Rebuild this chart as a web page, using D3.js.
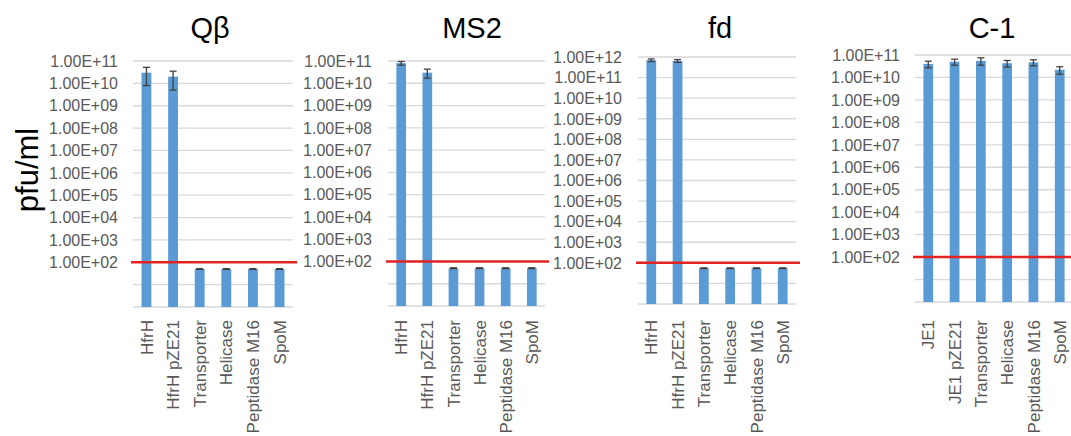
<!DOCTYPE html>
<html>
<head>
<meta charset="utf-8">
<script src="https://cdn.jsdelivr.net/npm/d3@7"></script>
<style>
  body { margin: 0; background: #fff; }
  text { font-family: "Liberation Sans", Arial, sans-serif; }
</style>
</head>
<body>
<svg id="chart" width="1071" height="436"></svg>
<script>
// data
const hfrCategories = ["HfrH", "HfrH pZE21", "Transporter", "Helicase", "Peptidase M16", "SpoM"];
const je1Categories = ["JE1", "JE1 pZE21", "Transporter", "Helicase", "Peptidase M16", "SpoM"];
const panelTitles = ["Q\u03B2", "MS2", "fd", "C-1"];

const qbValues = [3.0e10, 2.0e10, 50, 50, 50, 50];
const qbErrors = [2.2e10, 1.5e10, 2, 2, 2, 2];
const ms2Values = [8.0e10, 3.0e10, 50, 50, 50, 50];
const ms2Errors = [1.5e10, 1.3e10, 2, 2, 2, 2];
const fdValues = [7.0e11, 6.5e11, 55, 55, 55, 55];
const fdErrors = [1.0e11, 1.0e11, 2, 2, 2, 2];
const c1Values = [4.0e10, 5.0e10, 5.5e10, 4.3e10, 4.7e10, 2.2e10];
const c1Errors = [1.3e10, 1.5e10, 2.0e10, 1.4e10, 1.4e10, 0.8e10];

const detectionLimit = 1e2;
const yMaxes = [1e11, 1e11, 1e12, 1e11];

// layout
const config = {
    barColor: "#5B9BD5",
    gridColor: "#D9D9D9",
    errColor: "#404040",
    limitColor: "#E32222",
    labelColor: "#595959",
    tickFont: 16,
    xTickFont: 17,
    titleFont: 29,
    xLabelTop: 320
};

const panels = [
    {x0: 133, x1: 293, yTop: 61, yBottom: 307, labelX: 118, titleX: 210},
    {x0: 388, x1: 545, yTop: 61, yBottom: 306, labelX: 372, titleX: 472},
    {x0: 638, x1: 796, yTop: 57, yBottom: 304, labelX: 622, titleX: 720},
    {x0: 915, x1: 1073, yTop: 55, yBottom: 302, labelX: 900, titleX: 992}
];

const categoriesList = [hfrCategories, hfrCategories, hfrCategories, je1Categories];
const valuesList = [qbValues, ms2Values, fdValues, c1Values];
const errorsList = [qbErrors, ms2Errors, fdErrors, c1Errors];

function formatSci(v) {
    const e = Math.round(Math.log10(v));
    return "1.00E+" + (e < 10 ? "0" + e : e);
}

const svg = d3.select("#chart");

svg.append("text")
    .attr("transform", "translate(38,170) rotate(-90)")
    .attr("text-anchor", "middle")
    .attr("font-size", 31)
    .attr("fill", "#000")
    .text("pfu/ml");

panels.forEach(function(p, k) {
    const cats = categoriesList[k];
    const vals = valuesList[k];
    const errs = errorsList[k];
    const g = svg.append("g");

    const x = d3.scaleBand()
        .domain(cats)
        .range([p.x0, p.x1])
        .paddingInner(0.63)
        .paddingOuter(0.32);

    const y = d3.scaleLog()
        .domain([1, yMaxes[k]])
        .range([p.yBottom, p.yTop]);

    const decades = d3.range(0, Math.round(Math.log10(yMaxes[k])) + 1).map(e => Math.pow(10, e));

    // gridlines
    g.selectAll(".grid")
        .data(decades)
        .enter()
        .append("line")
        .attr("x1", p.x0)
        .attr("x2", p.x1)
        .attr("y1", d => y(d))
        .attr("y2", d => y(d))
        .attr("stroke", config.gridColor)
        .attr("stroke-width", 1.3);

    // tick labels (Excel leaves 1 and 10 blank here)
    g.selectAll(".tick")
        .data(decades.filter(d => d >= 100))
        .enter()
        .append("text")
        .attr("x", p.labelX)
        .attr("y", d => y(d))
        .attr("dy", "0.36em")
        .attr("text-anchor", "end")
        .attr("font-size", config.tickFont)
        .attr("fill", config.labelColor)
        .text(formatSci);

    // bars
    g.selectAll(".bar")
        .data(vals)
        .enter()
        .append("rect")
        .attr("x", (_, i) => x(cats[i]))
        .attr("width", x.bandwidth())
        .attr("y", d => y(d))
        .attr("height", d => y(1) - y(d))
        .attr("fill", config.barColor);

    // error bars
    const eg = g.selectAll(".err")
        .data(vals)
        .enter()
        .append("g")
        .attr("stroke", config.errColor)
        .attr("stroke-width", 1.3);
    eg.append("line")
        .attr("x1", (_, i) => x(cats[i]) + x.bandwidth() / 2)
        .attr("x2", (_, i) => x(cats[i]) + x.bandwidth() / 2)
        .attr("y1", (d, i) => y(d + errs[i]))
        .attr("y2", (d, i) => y(Math.max(d - errs[i], 1)));
    [1, -1].forEach(function(sign) {
        eg.append("line")
            .attr("x1", (_, i) => x(cats[i]) + x.bandwidth() / 2 - 3.5)
            .attr("x2", (_, i) => x(cats[i]) + x.bandwidth() / 2 + 3.5)
            .attr("y1", (d, i) => y(Math.max(d + sign * errs[i], 1)))
            .attr("y2", (d, i) => y(Math.max(d + sign * errs[i], 1)));
    });

    // detection limit
    g.append("line")
        .attr("x1", p.x0 - 2)
        .attr("x2", p.x1 + 4)
        .attr("y1", y(detectionLimit))
        .attr("y2", y(detectionLimit))
        .attr("stroke", config.limitColor)
        .attr("stroke-width", 2.5);

    // category labels
    g.selectAll(".xlab")
        .data(cats)
        .enter()
        .append("text")
        .attr("transform", d => `translate(${x(d) + x.bandwidth() / 2},${config.xLabelTop}) rotate(-90)`)
        .attr("dy", "0.36em")
        .attr("text-anchor", "end")
        .attr("font-size", config.xTickFont)
        .attr("fill", config.labelColor)
        .text(d => d);

    // title
    g.append("text")
        .attr("x", p.titleX)
        .attr("y", 38)
        .attr("text-anchor", "middle")
        .attr("font-size", config.titleFont)
        .attr("fill", "#000")
        .text(panelTitles[k]);
});
</script>
</body>
</html>
